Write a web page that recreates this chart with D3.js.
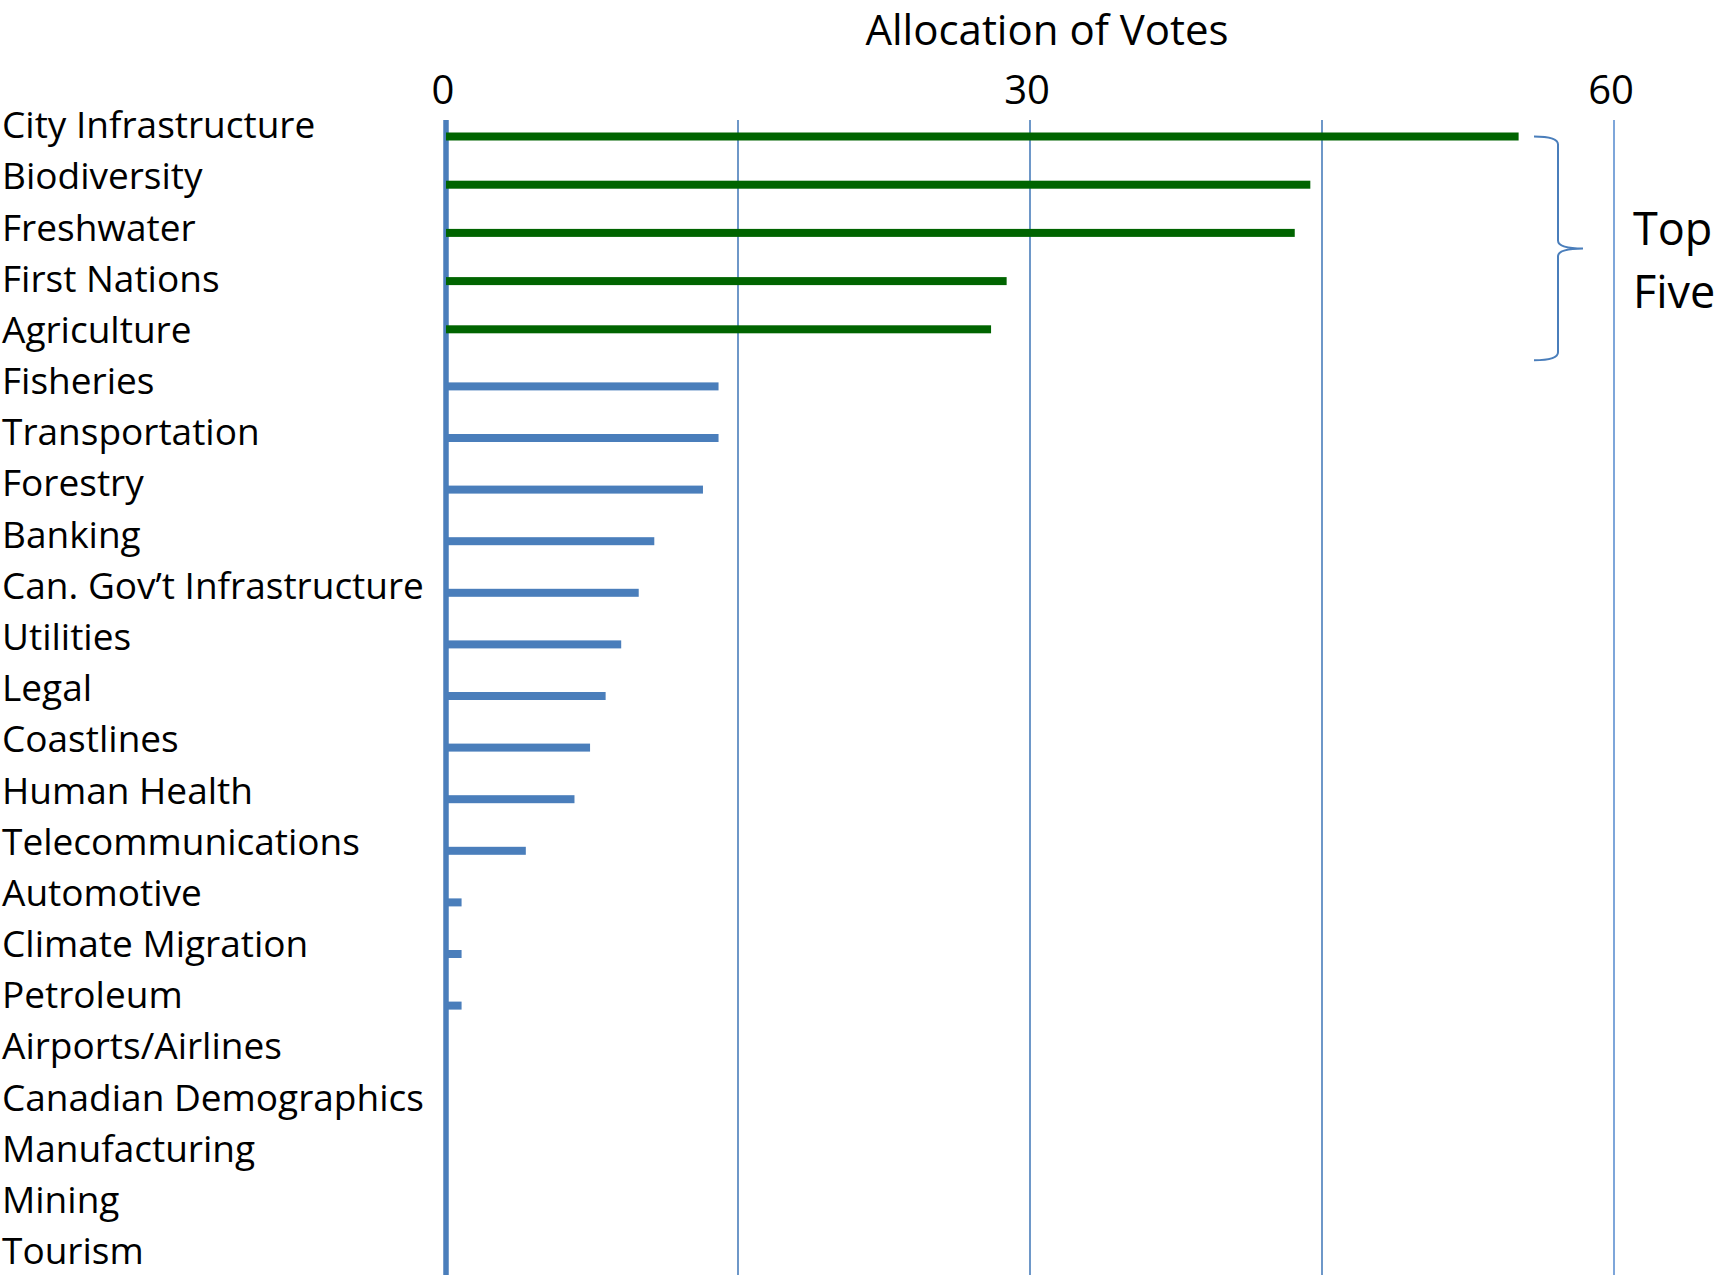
<!DOCTYPE html>
<html>
<head>
<meta charset="utf-8">
<script src="https://cdn.jsdelivr.net/npm/d3@7"></script>
<style>
  html, body { margin: 0; padding: 0; background: #ffffff; }
  svg { display: block; font-family: "Open Sans", "Noto Sans", sans-serif; }
</style>
</head>
<body>
<svg id="chart" width="1730" height="1275"></svg>
<script>
// ---- data ----
const categories = [
  "City Infrastructure", "Biodiversity", "Freshwater", "First Nations", "Agriculture",
  "Fisheries", "Transportation", "Forestry", "Banking", "Can. Gov\u2019t Infrastructure",
  "Utilities", "Legal", "Coastlines", "Human Health", "Telecommunications",
  "Automotive", "Climate Migration", "Petroleum", "Airports/Airlines",
  "Canadian Demographics", "Manufacturing", "Mining", "Tourism"
];
const votes = [
  55.1, 44.4, 43.6, 28.8, 28.0,
  14.0, 14.0, 13.2, 10.7, 9.9,
  9.0, 8.2, 7.4, 6.6, 4.1,
  0.8, 0.8, 0.8, 0, 0, 0, 0, 0
];
const topCount = 5;
const gridValues = [15, 30, 45, 60];
const tickLabels = [0, 30, 60];
const titleText = "Allocation of Votes";
const braceText = ["Top", "Five"];

// ---- layout ----
const svg = d3.select("#chart");
const blue = "#4a7ebb";
const green = "#006400";

const x = d3.scaleLinear().domain([0, 60]).range([446, 1614]);
// bar rows: the top group and the remaining group are spaced a little differently
const yTop = d3.scaleLinear().domain([0, topCount - 1]).range([136.5, 136.5 + 4 * 48.2]);
const yRest = d3.scaleLinear().domain([topCount, categories.length - 1])
  .range([386.4, 386.4 + (categories.length - 1 - topCount) * 51.6]);
const yBar = i => (i < topCount ? yTop(i) : yRest(i));
// label rows (text baselines)
const yLab = d3.scalePoint().domain(d3.range(categories.length)).range([138.3, 138.3 + 22 * 51.17]);

const plotTop = 120, plotBottom = 1275;

// gridlines
svg.append("g").selectAll("line").data(gridValues).join("line")
  .attr("x1", d => x(d)).attr("x2", d => x(d))
  .attr("y1", plotTop).attr("y2", plotBottom)
  .attr("stroke", (d, i) => i === gridValues.length - 1 ? "#7ea6da" : blue)
  .attr("stroke-width", (d, i) => i === gridValues.length - 1 ? 2 : 1.6);

// main axis line
svg.append("line")
  .attr("x1", x(0)).attr("x2", x(0))
  .attr("y1", plotTop).attr("y2", plotBottom)
  .attr("stroke", blue).attr("stroke-width", 5.5);

// bars
svg.append("g").selectAll("rect").data(votes.map((v, i) => ({v, i}))).join("rect")
  .filter(d => d.v > 0)
  .attr("x", x(0))
  .attr("y", d => yBar(d.i) - 4)
  .attr("width", d => x(d.v) - x(0))
  .attr("height", 8)
  .attr("fill", d => d.i < topCount ? green : blue);

// category labels
svg.append("g").selectAll("text").data(categories).join("text")
  .attr("x", 2)
  .attr("y", (d, i) => yLab(i))
  .attr("font-size", 37)
  .attr("fill", "#000")
  .text(d => d);

// tick labels
svg.append("g").selectAll("text").data(tickLabels).join("text")
  .attr("x", d => x(d) - 3)
  .attr("y", 104)
  .attr("text-anchor", "middle")
  .attr("font-size", 40)
  .attr("fill", "#000")
  .text(d => d);

// title
svg.append("text")
  .attr("x", 1047).attr("y", 45)
  .attr("text-anchor", "middle")
  .attr("font-size", 42)
  .attr("fill", "#000")
  .text(titleText);

// brace for top five
const bTop = yBar(0);
const bBot = yBar(topCount - 1) + 31;
const bMid = (bTop + bBot) / 2;
const bx0 = 1534, bx1 = 1558, bTip = 1583;
const p = d3.path();
p.moveTo(bx0, bTop);
p.quadraticCurveTo(bx1, bTop, bx1, bTop + 8);
p.lineTo(bx1, bMid - 8);
p.quadraticCurveTo(bx1, bMid, bTip, bMid);
p.quadraticCurveTo(bx1, bMid, bx1, bMid + 8);
p.lineTo(bx1, bBot - 8);
p.quadraticCurveTo(bx1, bBot, bx0, bBot);
svg.append("path").attr("d", p.toString())
  .attr("fill", "none").attr("stroke", blue).attr("stroke-width", 2);

svg.append("g").selectAll("text").data(braceText).join("text")
  .attr("x", 1633)
  .attr("y", (d, i) => 245 + i * 63)
  .attr("font-size", 45)
  .attr("fill", "#000")
  .text(d => d);
</script>
</body>
</html>
